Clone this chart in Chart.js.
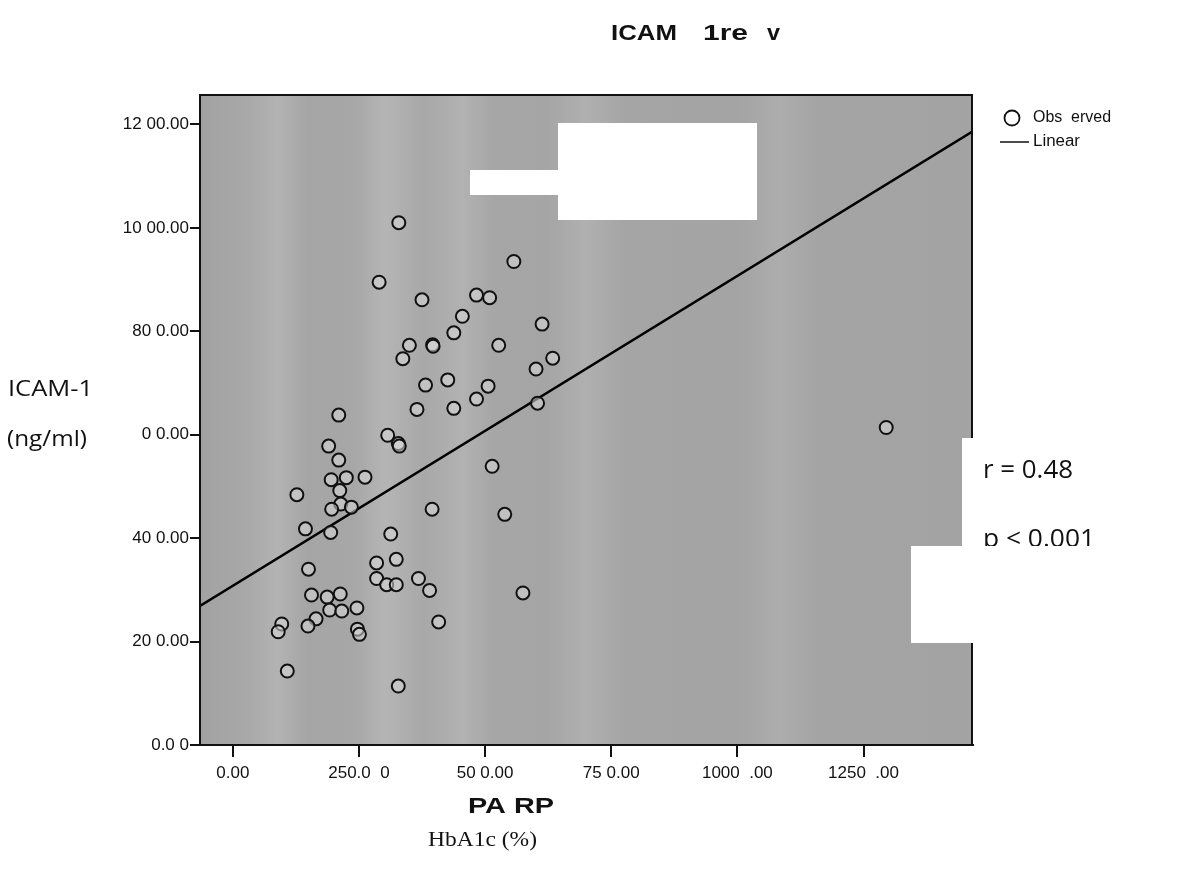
<!DOCTYPE html>
<html>
<head>
<meta charset="utf-8">
<script src="https://cdn.jsdelivr.net/npm/chart.js@4.4.1/dist/chart.umd.min.js"></script>
<style>
  html, body { margin: 0; padding: 0; background: #ffffff; }
  #wrap { width: 1201px; height: 877px; position: relative; }
  canvas { display: block; }
</style>
</head>
<body>
<div id="wrap"><canvas id="c" width="1201" height="877"></canvas></div>
<script>
// ---- data ----
const obsX = [329, 557, 290, 375, 483, 509, 455, 613, 438, 350, 396, 397, 527, 337, 634, 601, 382, 426, 506, 483,
              604, 365, 438, 210, 307, 328, 330, 514, 190, 210, 195, 225, 262, 212, 127, 214, 196, 235, 395, 539,
              144, 194, 313, 150, 285, 324, 285, 305, 324, 368, 390, 575, 156, 187, 213, 192, 216, 246, 165, 97,
              90, 149, 247, 251, 408, 108, 328, 1295];
const obsY = [1010, 935, 895, 861, 870, 865, 829, 814, 797, 773, 774, 771, 773, 747, 748, 727, 696, 706, 694, 669,
              661, 649, 651, 638, 599, 583, 578, 539, 578, 551, 513, 517, 518, 492, 484, 466, 456, 460, 456, 446,
              418, 411, 408, 340, 352, 359, 322, 310, 310, 322, 299, 294, 290, 286, 292, 261, 259, 265, 244, 234,
              219, 230, 224, 214, 238, 143, 114, 614];
const fitX = [-65, 1465];
const fitY = [269, 1186];
const xTickValues = [0, 250, 500, 750, 1000, 1250];
const xTickLabels = ['0.00', '250.0  0', '50 0.00', '75 0.00', '1000  .00', '1250  .00'];
const yTickValues = [0, 200, 400, 600, 800, 1000, 1200];
const yTickLabels = ['0.0 0', '20 0.00', '40 0.00', '0 0.00', '80 0.00', '10 00.00', '12 00.00'];
const titleParts = ['ICAM', '1re', 'v'];
const legendLabels = ['Obs  erved', 'Linear'];
const xTitle = 'PA RP';
const xSubTitle = 'HbA1c (%)';
const yTitleLines = ['ICAM-1', '(ng/ml)'];
const statLines = ['r = 0.48', 'p < 0.001'];

const scatterData = obsX.map((x, i) => ({ x: x, y: obsY[i] }));
const fitData = fitX.map((x, i) => ({ x: x, y: fitY[i] }));

function fitText(ctx, text, left, cy, font, width, baseline) {
  ctx.save();
  ctx.font = font;
  const w = ctx.measureText(text).width;
  ctx.translate(left, cy);
  ctx.scale(width / w, 1);
  ctx.textBaseline = baseline || 'middle';
  ctx.textAlign = 'left';
  ctx.fillStyle = '#111';
  ctx.fillText(text, 0, 0);
  ctx.restore();
}

const decor = {
  id: 'decor',
  beforeDatasetsDraw(chart) {
    const { ctx, chartArea: a } = chart;
    ctx.save();
    const g = ctx.createLinearGradient(a.left, 0, a.right, 0);
    const stops = [[0, '#a2a2a2'], [0.06, '#a8a8a8'], [0.1, '#b3b3b3'], [0.14, '#a5a5a5'], [0.2, '#a7a7a7'],
                   [0.24, '#b5b5b5'], [0.29, '#a8a8a8'], [0.34, '#b2b2b2'], [0.38, '#a6a6a6'], [0.45, '#a5a5a5'],
                   [0.5, '#b0b0b0'], [0.55, '#a5a5a5'], [0.7, '#a4a4a4'], [0.75, '#adadad'], [0.8, '#a4a4a4'], [1, '#a3a3a3']];
    stops.forEach(s => g.addColorStop(s[0], s[1]));
    ctx.fillStyle = g;
    ctx.fillRect(a.left, a.top, a.right - a.left, a.bottom - a.top);
    // pasted white patches inside the plot
    ctx.fillStyle = '#ffffff';
    ctx.fillRect(558, 123, 199, 97);
    ctx.fillRect(470, 170, 90, 25);
    ctx.restore();
  },
  afterDraw(chart) {
    const { ctx, chartArea: a } = chart;
    ctx.save();
    // frame
    ctx.strokeStyle = '#111';
    ctx.lineWidth = 2;
    ctx.strokeRect(a.left, a.top, a.right - a.left, a.bottom - a.top);
    ctx.beginPath();
    ctx.moveTo(190, a.bottom);
    ctx.lineTo(a.right + 2, a.bottom);
    ctx.stroke();
    // title
    const tf = 'bold 22px "Liberation Sans", Arial, sans-serif';
    fitText(ctx, titleParts[0], 611, 40, tf, 66, 'alphabetic');
    fitText(ctx, titleParts[1], 703, 40, tf, 45, 'alphabetic');
    fitText(ctx, titleParts[2], 767, 40, tf, 13, 'alphabetic');
    // axis titles
    fitText(ctx, xTitle, 468, 813, 'bold 22px "Liberation Sans", Arial, sans-serif', 86, 'alphabetic');
    fitText(ctx, xSubTitle, 428, 846, '20px "Liberation Serif", "Times New Roman", serif', 109, 'alphabetic');
    fitText(ctx, yTitleLines[0], 8, 390, '21px "Open Sans", sans-serif', 85);
    fitText(ctx, yTitleLines[1], 7, 440, '21px "Open Sans", sans-serif', 80);
    // legend
    ctx.beginPath();
    ctx.arc(1012, 118, 7.5, 0, Math.PI * 2);
    ctx.lineWidth = 1.8;
    ctx.strokeStyle = '#111';
    ctx.stroke();
    ctx.beginPath();
    ctx.moveTo(1000, 142);
    ctx.lineTo(1029, 142);
    ctx.lineWidth = 1.5;
    ctx.stroke();
    fitText(ctx, legendLabels[0], 1033, 118, '16px "Liberation Sans", Arial, sans-serif', 78);
    fitText(ctx, legendLabels[1], 1033, 142, '16px "Liberation Sans", Arial, sans-serif', 47);
    // white patches on the right
    ctx.fillStyle = '#ffffff';
    ctx.fillRect(962, 438, 239, 108);
    // stats text
    fitText(ctx, statLines[0], 983, 471, '25px "Open Sans", sans-serif', 90);
    ctx.save();
    ctx.beginPath();
    ctx.rect(900, 500, 301, 46);
    ctx.clip();
    fitText(ctx, statLines[1], 983, 540, '25px "Open Sans", sans-serif', 112);
    ctx.restore();
    ctx.fillStyle = '#ffffff';
    ctx.fillRect(911, 546, 290, 97);
    ctx.restore();
  }
};

new Chart(document.getElementById('c'), {
  type: 'scatter',
  data: {
    datasets: [
      {
        label: legendLabels[0],
        data: scatterData,
        pointRadius: 6.5,
        pointHoverRadius: 6.5,
        pointBorderWidth: 2,
        borderColor: '#111',
        backgroundColor: 'rgba(215,215,215,0.55)'
      },
      {
        type: 'line',
        label: legendLabels[1],
        data: fitData,
        borderColor: '#000',
        borderWidth: 2.5,
        pointRadius: 0,
        fill: false
      }
    ]
  },
  options: {
    responsive: false,
    animation: false,
    events: [],
    layout: { padding: { top: 95, right: 229, left: 0, bottom: 0 } },
    plugins: { legend: { display: false }, title: { display: false }, tooltip: { enabled: false } },
    scales: {
      x: {
        type: 'linear',
        min: -65,
        max: 1465,
        afterFit(scale) { scale.height = 132; },
        afterBuildTicks(scale) { scale.ticks = xTickValues.map(v => ({ value: v })); },
        grid: { drawOnChartArea: false, drawTicks: true, tickLength: 12, color: '#111', lineWidth: 2 },
        border: { display: true, color: '#111', width: 2 },
        ticks: {
          color: '#111',
          padding: 6,
          maxRotation: 0,
          autoSkip: false,
          font: { family: '"Liberation Sans", Arial, sans-serif', size: 17 },
          callback: (v) => { const i = xTickValues.indexOf(v); return i >= 0 ? xTickLabels[i] : ''; }
        }
      },
      y: {
        type: 'linear',
        min: 0,
        max: 1257,
        afterFit(scale) { scale.width = 200; },
        afterBuildTicks(scale) { scale.ticks = yTickValues.map(v => ({ value: v })); },
        grid: { drawOnChartArea: false, drawTicks: true, tickLength: 10, color: '#111', lineWidth: 2 },
        border: { display: true, color: '#111', width: 2 },
        ticks: {
          color: '#111',
          padding: 1,
          autoSkip: false,
          font: { family: '"Liberation Sans", Arial, sans-serif', size: 17 },
          callback: (v) => { const i = yTickValues.indexOf(v); return i >= 0 ? yTickLabels[i] : ''; }
        }
      }
    }
  },
  plugins: [decor]
});
</script>
</body>
</html>
